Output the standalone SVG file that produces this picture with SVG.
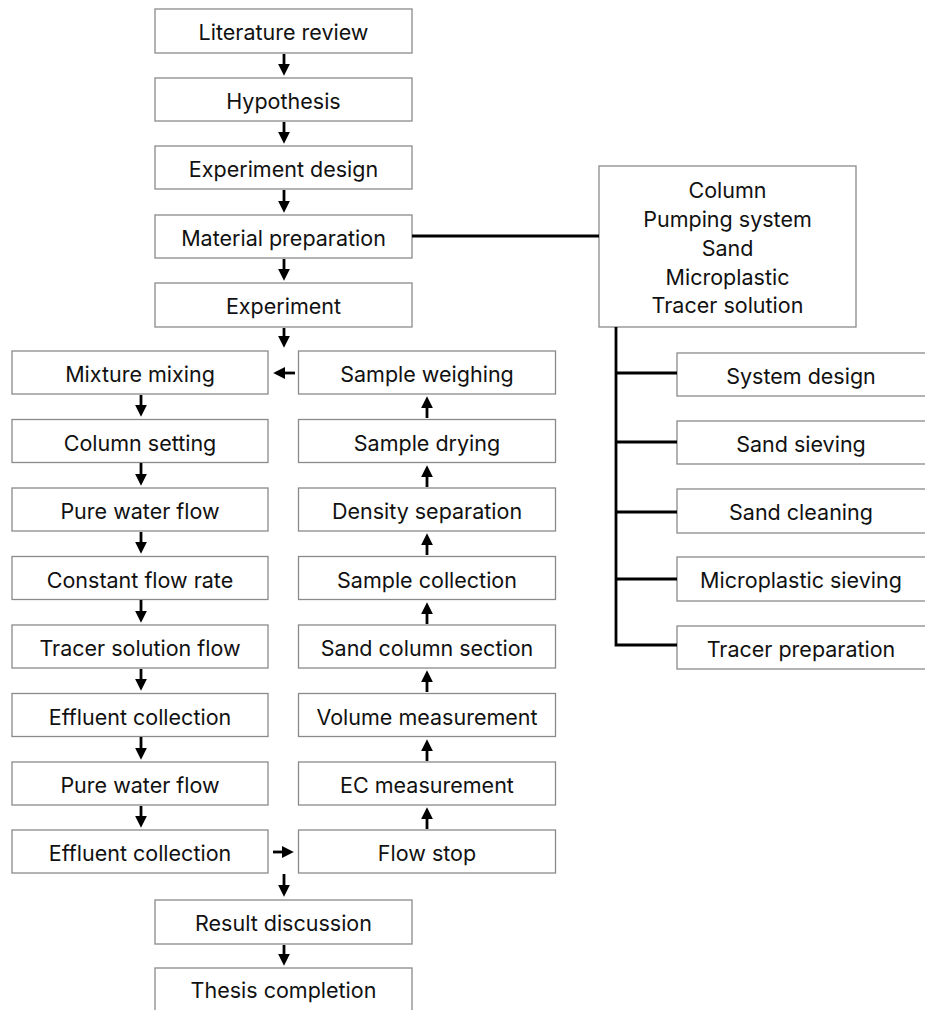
<svg xmlns="http://www.w3.org/2000/svg" width="925" height="1010" viewBox="0 0 925 1010">
<style>
.box{fill:#fff;stroke:#8a8a8a;stroke-width:1.3}
.t{font-family:Inter,"Liberation Sans",sans-serif;font-size:21.5px;fill:#111;text-anchor:middle}
.arr{stroke:#000;stroke-width:2.8;fill:none;marker-end:url(#ah)}
.ln{stroke:#000;stroke-width:2.8;fill:none}
</style>
<defs>
<marker id="ah" viewBox="0 0 10 10" refX="1" refY="5" markerWidth="12" markerHeight="12" markerUnits="userSpaceOnUse" orient="auto"><path d="M0,0 L10,5 L0,10 z" fill="#000"/></marker>
</defs>
<rect width="925" height="1010" fill="#fff"/>
<g id="n-literature"><rect class="box" x="155" y="9" width="257" height="44"/><text class="t" x="283.5" y="40">Literature review</text></g>
<g id="n-hypothesis"><rect class="box" x="155" y="78" width="257" height="43"/><text class="t" x="283.5" y="109">Hypothesis</text></g>
<g id="n-design"><rect class="box" x="155" y="146" width="257" height="43"/><text class="t" x="283.5" y="177">Experiment design</text></g>
<g id="n-material"><rect class="box" x="155" y="215" width="257" height="43"/><text class="t" x="283.5" y="246">Material preparation</text></g>
<g id="n-experiment"><rect class="box" x="155" y="283" width="257" height="44"/><text class="t" x="283.5" y="314">Experiment</text></g>
<g id="n-materials-list"><rect class="box" x="599" y="166" width="257" height="161"/>
<text class="t" x="727.5" y="198">Column</text>
<text class="t" x="727.5" y="227">Pumping system</text>
<text class="t" x="727.5" y="256">Sand</text>
<text class="t" x="727.5" y="284.5">Microplastic</text>
<text class="t" x="727.5" y="313">Tracer solution</text></g>
<g id="n-system-design"><rect class="box" x="677" y="353" width="258" height="43"/><text class="t" x="801" y="384">System design</text></g>
<g id="n-sand-sieving"><rect class="box" x="677" y="421" width="258" height="43"/><text class="t" x="801" y="452">Sand sieving</text></g>
<g id="n-sand-cleaning"><rect class="box" x="677" y="489" width="258" height="44"/><text class="t" x="801" y="520">Sand cleaning</text></g>
<g id="n-mp-sieving"><rect class="box" x="677" y="557" width="258" height="44"/><text class="t" x="801" y="588">Microplastic sieving</text></g>
<g id="n-tracer-prep"><rect class="box" x="677" y="626" width="258" height="43"/><text class="t" x="801" y="657">Tracer preparation</text></g>
<g id="n-mixture"><rect class="box" x="12" y="351" width="256" height="43"/><text class="t" x="140" y="382">Mixture mixing</text></g>
<g id="n-column-setting"><rect class="box" x="12" y="419.5" width="256" height="43"/><text class="t" x="140" y="450.5">Column setting</text></g>
<g id="n-pure1"><rect class="box" x="12" y="488" width="256" height="43"/><text class="t" x="140" y="519">Pure water flow</text></g>
<g id="n-constant"><rect class="box" x="12" y="556.5" width="256" height="43"/><text class="t" x="140" y="587.5">Constant flow rate</text></g>
<g id="n-tracer-flow"><rect class="box" x="12" y="625" width="256" height="43"/><text class="t" x="140" y="656">Tracer solution flow</text></g>
<g id="n-effluent1"><rect class="box" x="12" y="693.5" width="256" height="43"/><text class="t" x="140" y="724.5">Effluent collection</text></g>
<g id="n-pure2"><rect class="box" x="12" y="762" width="256" height="43"/><text class="t" x="140" y="793">Pure water flow</text></g>
<g id="n-effluent2"><rect class="box" x="12" y="830" width="256" height="43"/><text class="t" x="140" y="861">Effluent collection</text></g>
<g id="n-weighing"><rect class="box" x="298.5" y="351" width="257" height="43"/><text class="t" x="427" y="382">Sample weighing</text></g>
<g id="n-drying"><rect class="box" x="298.5" y="419.5" width="257" height="43"/><text class="t" x="427" y="450.5">Sample drying</text></g>
<g id="n-density"><rect class="box" x="298.5" y="488" width="257" height="43"/><text class="t" x="427" y="519">Density separation</text></g>
<g id="n-sample-collection"><rect class="box" x="298.5" y="556.5" width="257" height="43"/><text class="t" x="427" y="587.5">Sample collection</text></g>
<g id="n-section"><rect class="box" x="298.5" y="625" width="257" height="43"/><text class="t" x="427" y="656">Sand column section</text></g>
<g id="n-volume"><rect class="box" x="298.5" y="693.5" width="257" height="43"/><text class="t" x="427" y="724.5">Volume measurement</text></g>
<g id="n-ec"><rect class="box" x="298.5" y="762" width="257" height="43"/><text class="t" x="427" y="793">EC measurement</text></g>
<g id="n-flow-stop"><rect class="box" x="298.5" y="830" width="257" height="43"/><text class="t" x="427" y="861">Flow stop</text></g>
<g id="n-result"><rect class="box" x="155" y="900" width="257" height="44"/><text class="t" x="283.5" y="931">Result discussion</text></g>
<g id="n-thesis"><rect class="box" x="155" y="968" width="257" height="50"/><text class="t" x="283.5" y="998">Thesis completion</text></g>
<g id="connectors">
<path class="arr" d="M284,54 V65"/>
<path class="arr" d="M284,122 V133"/>
<path class="arr" d="M284,190 V202"/>
<path class="arr" d="M284,259 V270"/>
<path class="arr" d="M284,328 V337"/>
<path class="arr" d="M295,373 H284"/>
<path class="arr" d="M141,395 V406"/>
<path class="arr" d="M141,463 V475"/>
<path class="arr" d="M141,532 V543"/>
<path class="arr" d="M141,600 V612"/>
<path class="arr" d="M141,669 V680"/>
<path class="arr" d="M141,737 V749"/>
<path class="arr" d="M141,806 V817"/>
<path class="arr" d="M273,852 H283"/>
<path class="arr" d="M427,829 V818"/>
<path class="arr" d="M427,761 V750"/>
<path class="arr" d="M427,692 V681"/>
<path class="arr" d="M427,624 V613"/>
<path class="arr" d="M427,555 V544"/>
<path class="arr" d="M427,487 V476"/>
<path class="arr" d="M427,418 V407"/>
<path class="arr" d="M284,874 V886"/>
<path class="arr" d="M284,945 V955"/>
<path class="ln" d="M412,236 H599"/>
<path class="ln" d="M616,327 V645 M614.6,373 H677 M616,442 H677 M616,512 H677 M616,579 H677 M614.6,645 H677"/>
</g>
</svg>
